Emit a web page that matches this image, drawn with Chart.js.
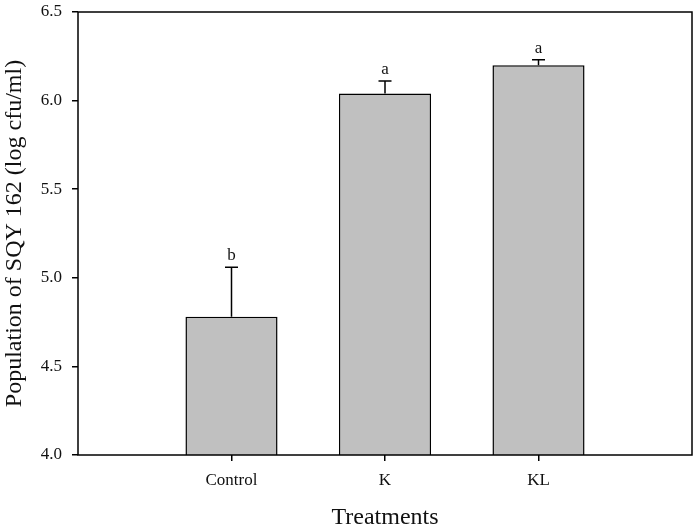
<!DOCTYPE html>
<html>
<head>
<meta charset="utf-8">
<script src="https://cdn.jsdelivr.net/npm/chart.js@4/dist/chart.umd.min.js"></script>
<style>
  html, body { margin: 0; padding: 0; background: #fff; }
  #wrap { width: 697px; height: 530px; }
</style>
</head>
<body>
<div id="wrap"><canvas id="popChart" width="697" height="530"></canvas></div>
<script>
// ===== DATA =====
// blank slots at both ends keep the empty margins of the original plot
const categories = ["", "Control", "K", "KL", ""];
const means = [null, 4.78, 6.04, 6.20, null];
const errors = [null, 0.28, 0.07, 0.03, null];
const letters = ["", "b", "a", "a", ""];
const yTicks = [4.0, 4.5, 5.0, 5.5, 6.0, 6.5];

const serif = "'Liberation Serif', 'DejaVu Serif', serif";

// ===== ERROR BARS + LETTERS =====
const errorBars = {
  id: "errorBars",
  afterDatasetsDraw(chart) {
    const { ctx, scales } = chart;
    const meta = chart.getDatasetMeta(0);
    ctx.save();
    ctx.strokeStyle = "#000";
    ctx.lineWidth = 1.5;
    ctx.fillStyle = "#111";
    ctx.font = "17px " + serif;
    ctx.textAlign = "center";
    ctx.textBaseline = "bottom";
    meta.data.forEach((bar, i) => {
      if (means[i] == null) return;
      const yTop = scales.y.getPixelForValue(means[i] + errors[i]);
      ctx.beginPath();
      ctx.moveTo(bar.x, bar.y);
      ctx.lineTo(bar.x, yTop);
      ctx.moveTo(bar.x - 6.5, yTop);
      ctx.lineTo(bar.x + 6.5, yTop);
      ctx.stroke();
      ctx.fillText(letters[i], bar.x, yTop - 3);
    });
    ctx.restore();
  }
};

// ===== FRAME =====
const frame = {
  id: "frame",
  afterDatasetsDraw(chart) {
    const { ctx, chartArea: a } = chart;
    ctx.save();
    ctx.strokeStyle = "#000";
    ctx.lineWidth = 1.5;
    ctx.strokeRect(a.left, a.top, a.right - a.left, a.bottom - a.top);
    ctx.restore();
  }
};

new Chart(document.getElementById("popChart"), {
  type: "bar",
  data: {
    labels: categories,
    datasets: [{
      data: means,
      backgroundColor: "#c0c0c0",
      borderColor: "#000",
      borderWidth: 1.5,
      borderSkipped: false,
      barPercentage: 0.6,
      categoryPercentage: 1
    }]
  },
  plugins: [errorBars, frame],
  options: {
    responsive: false,
    animation: false,
    layout: { padding: { left: 0, right: 5, top: 12, bottom: 0 } },
    plugins: { legend: { display: false }, tooltip: { enabled: false } },
    scales: {
      x: {
        offset: false,
        border: { display: false },
        grid: {
          offset: false,
          drawOnChartArea: false,
          tickLength: 6,
          lineWidth: 1.5,
          color: c => (c.index === 0 || c.index === categories.length - 1) ? "rgba(0,0,0,0)" : "#000"
        },
        ticks: { color: "#111", padding: 9, font: { family: serif, size: 17 } },
        title: {
          display: true,
          text: "Treatments",
          color: "#111",
          padding: 0,
          font: { family: serif, size: 24, lineHeight: 1 }
        },
        afterFit(scale) {
          scale.height = 75;
          scale.paddingLeft = 0;
          scale.paddingRight = 0;
        }
      },
      y: {
        min: 4.0,
        max: 6.5,
        border: { display: false },
        afterBuildTicks(scale) { scale.ticks = yTicks.map(v => ({ value: v })); },
        grid: { drawOnChartArea: false, tickLength: 6, lineWidth: 1.5, color: "#000" },
        ticks: {
          color: "#111",
          padding: 10,
          font: { family: serif, size: 17 },
          callback: v => Number(v).toFixed(1)
        },
        title: {
          display: true,
          text: "Population of SQY 162 (log cfu/ml)",
          color: "#111",
          padding: 0,
          font: { family: serif, size: 24 }
        },
        afterFit(scale) {
          scale.width = 78;
          scale.paddingTop = 0;
          scale.paddingBottom = 0;
        }
      }
    }
  }
});
</script>
</body>
</html>
